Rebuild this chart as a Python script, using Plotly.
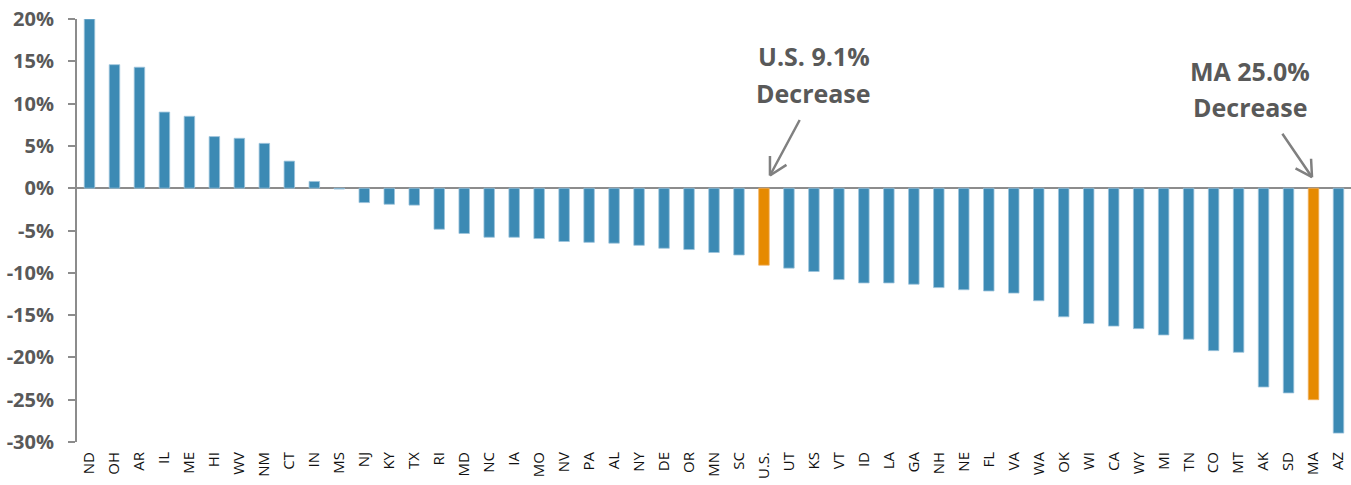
import plotly.graph_objects as go

states = ["ND","OH","AR","IL","ME","HI","WV","NM","CT","IN","MS","NJ","KY","TX","RI","MD","NC","IA","MO","NV","PA","AL","NY","DE","OR","MN","SC","U.S.","UT","KS","VT","ID","LA","GA","NH","NE","FL","VA","WA","OK","WI","CA","WY","MI","TN","CO","MT","AK","SD","MA","AZ"]
change = [20.0,14.6,14.3,9.0,8.5,6.1,5.9,5.3,3.2,0.8,-0.1,-1.7,-1.9,-2.0,-4.85,-5.35,-5.8,-5.8,-5.95,-6.3,-6.4,-6.5,-6.75,-7.1,-7.25,-7.6,-7.9,-9.1,-9.45,-9.85,-10.8,-11.2,-11.2,-11.35,-11.75,-12.0,-12.15,-12.4,-13.3,-15.2,-16.0,-16.3,-16.6,-17.35,-17.85,-19.2,-19.4,-23.5,-24.2,-25.0,-28.95]
highlight = ["U.S.", "MA"]
ytick_vals = [-30,-25,-20,-15,-10,-5,0,5,10,15,20]
ytick_text = [f"{v}%" for v in ytick_vals]

BLUE = "#3C8AB4"
ORANGE = "#E68A00"
GREY_TXT = "#595959"
GREY_LINE = "#8C8C8C"
colors = [ORANGE if s in highlight else BLUE for s in states]
edge = ["#F0B060" if s in highlight else "#9DC4DC" for s in states]

fig = go.Figure(go.Bar(
    x=states, y=change, marker=dict(color=colors, line=dict(color=edge, width=0.8)),
    width=0.42, cliponaxis=True,
))

fig.update_layout(
    width=1351, height=485,
    margin=dict(l=77, r=0, t=19, b=43),
    plot_bgcolor="white", paper_bgcolor="white",
    showlegend=False, bargap=0.58,
)
fig.update_xaxes(
    type="category", tickangle=-90, showline=False, ticks="", showgrid=False,
    tickfont=dict(family="Open Sans", size=15, color="#111111"),
    ticklabelstandoff=6, automargin=False,
)
fig.update_yaxes(
    range=[-30, 20], tickvals=ytick_vals, ticktext=ytick_text,
    showgrid=False, zeroline=True, zerolinecolor=GREY_LINE, zerolinewidth=2,
    showline=True, linecolor=GREY_LINE, linewidth=2,
    ticks="outside", ticklen=7, tickcolor=GREY_LINE, tickwidth=2,
    tickfont=dict(family="Open Sans", size=20, color=GREY_TXT, weight="bold"),
    ticklabelstandoff=10, automargin=False, ticklabeloverflow="allow",
)

def label(x, y, text):
    fig.add_annotation(x=x, y=y, xref="x", yref="y", text=text, showarrow=False,
                       xanchor="center", yanchor="middle",
                       font=dict(family="Open Sans", size=25, color=GREY_TXT, weight="bold"))

def arrow(x, y, ax, ay, arms):
    fig.add_annotation(x=x, y=y, xref="x", yref="y", ax=ax, ay=ay, text="",
                       showarrow=True, arrowhead=0, arrowwidth=2.5, arrowcolor="#808080",
                       standoff=0, borderpad=0)
    for (dx, dy) in arms:
        fig.add_annotation(x=x, y=y, xref="x", yref="y", ax=dx, ay=dy, text="",
                           showarrow=True, arrowhead=0, arrowwidth=2.5, arrowcolor="#808080",
                           standoff=0, borderpad=0)

label(29.0, 15.6, "U.S. 9.1%")
label(29.0, 11.3, "Decrease")
arrow(27.24, 1.5, 30, -56, [(0, -20), (17, -11)])

label(46.46, 13.9, "MA 25.0%")
label(46.46, 9.6, "Decrease")
arrow(48.94, 1.3, -30, -44, [(-17, -9), (-1, -19)])

fig.write_html("out.html", config={"displayModeBar": False},
               post_script="document.body.style.margin='0';")
